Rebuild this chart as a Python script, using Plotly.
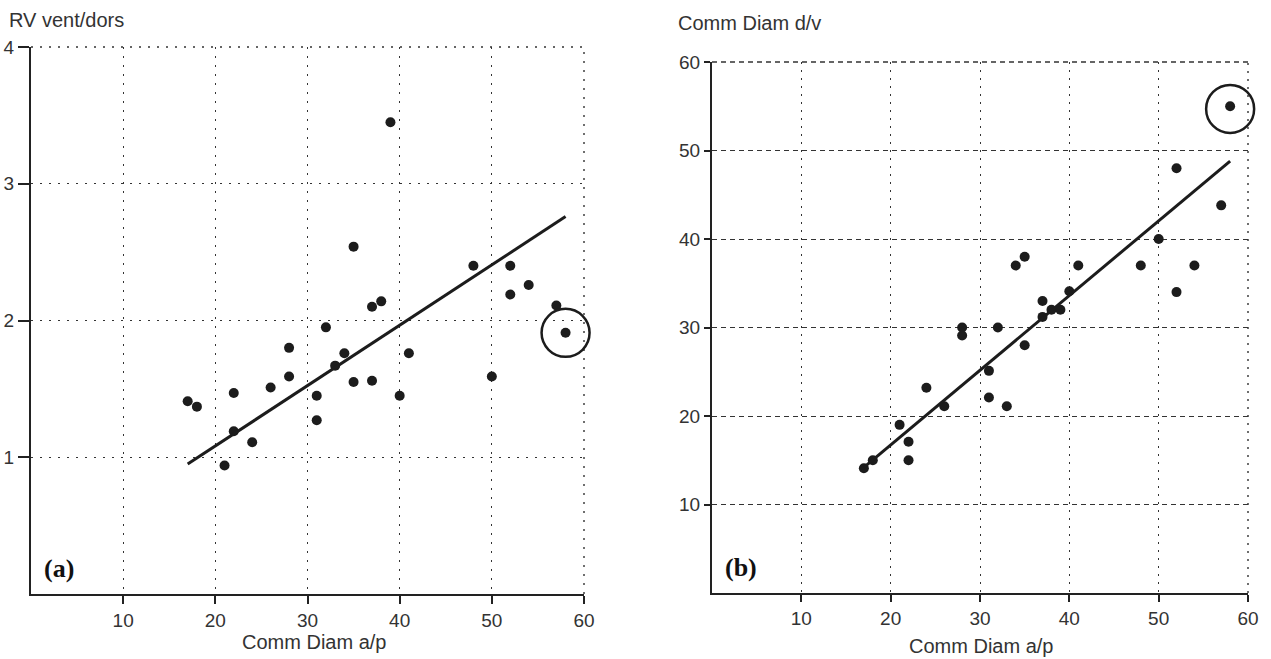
import plotly.graph_objects as go

W, H = 1271, 659

# ---------------- data ----------------
comm_ap_a = [17, 18, 21, 22, 22, 24, 26, 28, 28, 31, 31, 32, 33, 34, 35, 35, 37, 37, 38, 39, 40, 41, 48, 50, 52, 52, 54, 57, 58]
rv_vent_dors = [1.41, 1.37, 0.94, 1.47, 1.19, 1.11, 1.51, 1.80, 1.59, 1.45, 1.27, 1.95, 1.67, 1.76, 2.54, 1.55, 2.10, 1.56, 2.14, 3.45, 1.45, 1.76, 2.40, 1.59, 2.40, 2.19, 2.26, 2.11, 1.91]
fit_a_x = [17, 58]
fit_a_y = [0.95, 2.76]
outlier_a_x = [58]
outlier_a_y = [1.91]

comm_ap_b = [17, 18, 21, 22, 22, 24, 26, 28, 28, 31, 31, 32, 33, 34, 35, 35, 37, 37, 38, 39, 40, 41, 48, 50, 52, 52, 54, 57, 58]
comm_dv = [14.1, 15.0, 19.0, 17.1, 15.0, 23.2, 21.1, 30.0, 29.1, 25.1, 22.1, 30.0, 21.1, 37.0, 38.0, 28.0, 33.0, 31.2, 32.0, 32.0, 34.1, 37.0, 37.0, 40.0, 48.0, 34.0, 37.0, 43.8, 55.0]
fit_b_x = [17, 58]
fit_b_y = [14.2, 48.8]
outlier_b_x = [58]
outlier_b_y = [54.7]

x_ticks = [10, 20, 30, 40, 50, 60]
y_ticks_a = [1, 2, 3, 4]
y_ticks_b = [10, 20, 30, 40, 50, 60]

# ---------------- styling helpers ----------------
def px(x):
    return x / W

def py(y):
    return 1 - y / H

FONT = "Liberation Sans, Arial, sans-serif"
INK = "#1c1c1c"
GRID = "#333333"
DOT_A = "2px,7px"
DOT_B = "2px,6px"
DASH_B = "5px,4px"

fig = go.Figure()

fig.add_trace(go.Scatter(x=comm_ap_a, y=rv_vent_dors, mode="markers",
                         marker=dict(size=10, color=INK), xaxis="x", yaxis="y", showlegend=False))
fig.add_trace(go.Scatter(x=fit_a_x, y=fit_a_y, mode="lines",
                         line=dict(color=INK, width=3), xaxis="x", yaxis="y", showlegend=False))
fig.add_trace(go.Scatter(x=outlier_a_x, y=outlier_a_y, mode="markers", cliponaxis=False,
                         marker=dict(symbol="circle-open", size=48, color=INK, line=dict(width=2.5, color=INK)),
                         xaxis="x", yaxis="y", showlegend=False))
fig.add_trace(go.Scatter(x=comm_ap_b, y=comm_dv, mode="markers",
                         marker=dict(size=10, color=INK), xaxis="x2", yaxis="y2", showlegend=False))
fig.add_trace(go.Scatter(x=fit_b_x, y=fit_b_y, mode="lines",
                         line=dict(color=INK, width=3), xaxis="x2", yaxis="y2", showlegend=False))
fig.add_trace(go.Scatter(x=outlier_b_x, y=outlier_b_y, mode="markers", cliponaxis=False,
                         marker=dict(symbol="circle-open", size=48, color=INK, line=dict(width=2.5, color=INK)),
                         xaxis="x2", yaxis="y2", showlegend=False))

axis_common = dict(showline=True, linecolor="#222", linewidth=2, ticks="outside",
                   tickwidth=1.5, tickcolor="#222", zeroline=False, showgrid=True,
                   gridcolor=GRID, gridwidth=1.4, automargin=False,
                   tickfont=dict(family=FONT, size=19, color="#333"))

fig.update_layout(
    template="none",
    width=W, height=H, autosize=False,
    margin=dict(l=0, r=0, t=0, b=0, pad=0),
    paper_bgcolor="white", plot_bgcolor="white",
    xaxis=dict(axis_common, domain=[px(31), px(584)], range=[0, 60], tickvals=x_ticks, ticklen=8,
               griddash=DOT_A, anchor="y"),
    yaxis=dict(axis_common, domain=[py(594), py(47)], range=[0, 4], tickvals=y_ticks_a, ticklen=11,
               griddash=DOT_A, anchor="x"),
    xaxis2=dict(axis_common, domain=[px(712), px(1248)], range=[0, 60], tickvals=x_ticks, ticklen=7,
                griddash=DOT_B, anchor="y2"),
    yaxis2=dict(axis_common, domain=[py(593), py(62)], range=[0, 60], tickvals=y_ticks_b, ticklen=6,
                griddash=DASH_B, anchor="x2"),
)

# gridlines lying on the far edges of each plot area (plotly omits them)
for xr, yr, vdash, hdash in [("x", "y", DOT_A, DOT_A), ("x2", "y2", DOT_B, DASH_B)]:
    fig.add_shape(type="line", xref=xr + " domain", yref=yr + " domain", x0=1, x1=1, y0=0, y1=1,
                  line=dict(color=GRID, width=1.4, dash=vdash), layer="below")
    fig.add_shape(type="line", xref=xr + " domain", yref=yr + " domain", x0=0, x1=1, y0=1, y1=1,
                  line=dict(color=GRID, width=1.4, dash=hdash), layer="below")

ann = []
ann.append(dict(text="RV vent/dors", x=px(7), y=py(20), xanchor="left", yanchor="middle"))
ann.append(dict(text="Comm Diam d/v", x=px(676), y=py(23), xanchor="left", yanchor="middle"))
ann.append(dict(text="Comm Diam a/p", x=px(314), y=py(642), xanchor="center", yanchor="middle"))
ann.append(dict(text="Comm Diam a/p", x=px(981), y=py(646), xanchor="center", yanchor="middle"))
for a in ann:
    a.update(xref="paper", yref="paper", showarrow=False, font=dict(family=FONT, size=20, color="#333"))
    fig.add_annotation(**a)

for txt, x0, y0 in [("(a)", 42, 568), ("(b)", 723, 567)]:
    fig.add_annotation(text="<b>" + txt + "</b>", x=px(x0), y=py(y0), xref="paper", yref="paper",
                       xanchor="left", yanchor="middle", showarrow=False,
                       font=dict(family="Liberation Serif, DejaVu Serif, serif", size=26, color="#111"))

fig.write_html("out.html", config={"displayModeBar": False},
               post_script="document.body.style.margin='0';document.body.style.overflow='hidden';")
